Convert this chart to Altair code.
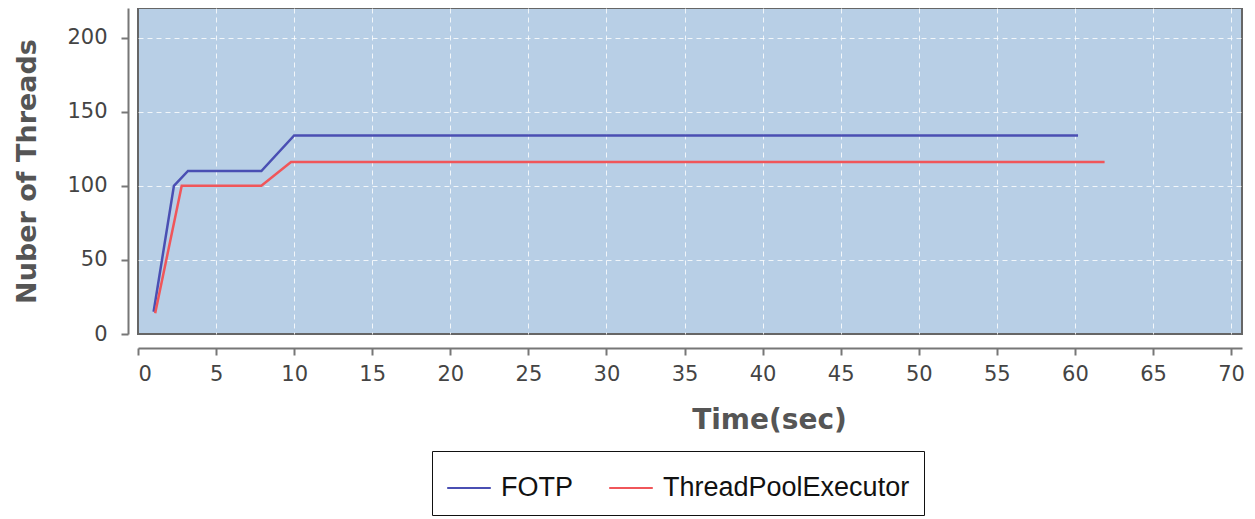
import altair as alt
import pandas as pd

fotp_t = [1.0, 2.3, 3.2, 7.9, 10.0, 60.2]
fotp_n = [15, 100, 110, 110, 134, 134]
tpe_t = [1.1, 2.8, 7.9, 9.8, 61.9]
tpe_n = [14, 100, 100, 116, 116]
series = ["FOTP", "ThreadPoolExecutor"]
colors = ["#4a4fb3", "#f0565a"]

rows = []
for i, (t, n) in enumerate(zip(fotp_t, fotp_n)):
    rows.append({"t": t, "n": n, "s": series[0], "o": i})
for i, (t, n) in enumerate(zip(tpe_t, tpe_n)):
    rows.append({"t": t, "n": n, "s": series[1], "o": i})
df = pd.DataFrame(rows)

tick_font = "DejaVu Sans"
grid_op = {"condition": {"test": "datum.value == 0", "value": 0}, "value": 0.8}

chart = alt.Chart(df).mark_line(strokeWidth=2.5).encode(
    x=alt.X("t:Q", title="Time(sec)",
            scale=alt.Scale(domain=[0, 70.7], nice=False, zero=False),
            axis=alt.Axis(values=list(range(0, 71, 5)), offset=14, grid=True,
                          gridColor="white", gridDash=[5, 4], gridOpacity=grid_op,
                          domainColor="#777", domainWidth=2, tickColor="#777", tickWidth=2,
                          tickSize=7, labelFont=tick_font, labelFontSize=21,
                          labelColor="#444", labelPadding=8,
                          titleFont=tick_font, titleFontSize=28, titleFontWeight="bold",
                          titleColor="#555", titlePadding=22, titleX=631)),
    y=alt.Y("n:Q", title="Nuber of Threads",
            scale=alt.Scale(domain=[0, 220], nice=False),
            axis=alt.Axis(values=[0, 50, 100, 150, 200], offset=10, grid=True,
                          gridColor="white", gridDash=[5, 4], gridOpacity=grid_op,
                          domainColor="#777", domainWidth=2, tickColor="#777", tickWidth=2,
                          tickSize=7, labelFont=tick_font, labelFontSize=21,
                          labelColor="#444", labelPadding=14,
                          titleFont=tick_font, titleFontSize=27, titleFontWeight="bold",
                          titleColor="#555", titlePadding=25)),
    color=alt.Color("s:N", scale=alt.Scale(domain=series, range=colors),
                    legend=alt.Legend(title=None, orient="none", direction="horizontal",
                                      legendX=294, legendY=443,
                                      strokeColor="#111", fillColor="white",
                                      padding=14, symbolType="stroke", symbolSize=1900,
                                      symbolStrokeWidth=2, labelFont="Liberation Sans",
                                      labelFontSize=27, labelColor="#111", labelLimit=500,
                                      columnPadding=32, labelOffset=9,
                                      symbolOffset=0)),
    order="o:Q",
).properties(
    width=1104, height=326,
    padding={"left": 130, "top": 0, "right": 5, "bottom": 185},
    autosize=alt.AutoSizeParams(type="none"),
).configure_view(
    fill="#b8cfe6", stroke="#666", strokeWidth=2
)

chart.save("out.html", embed_options={"renderer": "svg", "actions": False})
